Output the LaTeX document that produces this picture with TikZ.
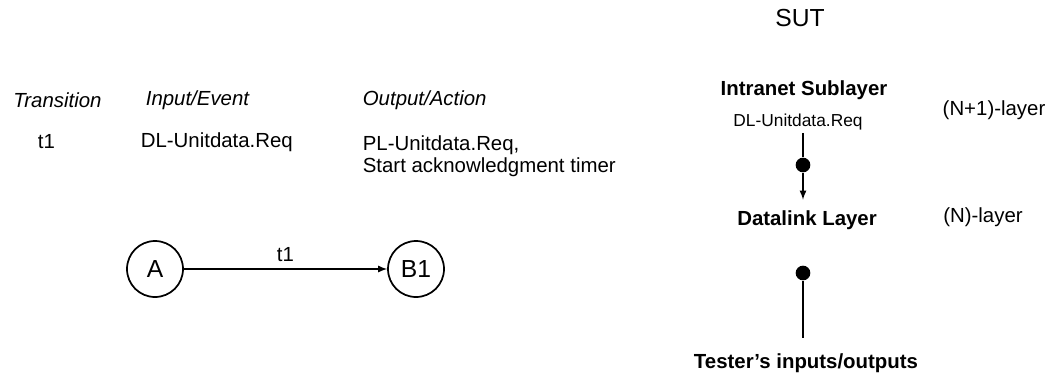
\documentclass[tikz,border=0pt]{standalone}
\usepackage{fontspec}
\setmainfont{Liberation Sans}
\usetikzlibrary{positioning}
\tikzset{
 txt/.style={font=\fontsize{15.3}{16.5}\selectfont, inner sep=0pt},
 hdr/.style={txt, font=\fontsize{15.3}{16.5}\selectfont\itshape},
 boldtxt/.style={font=\fontsize{15.3}{16.5}\selectfont\bfseries, inner sep=0pt},
 smalltxt/.style={font=\fontsize{13}{15}\selectfont, inner sep=1.5pt},
 bigtxt/.style={font=\fontsize{18.5}{20}\selectfont, inner sep=0pt},
 stnode/.style={draw, circle, minimum size=42pt, inner sep=0pt, font=\fontsize{18.5}{20}\selectfont},
 bigdot/.style={fill, circle, minimum size=11pt, inner sep=0pt}
}
\begin{document}
\begin{tikzpicture}[x=0.75pt,y=-0.75pt,line width=1.3pt]
 \useasboundingbox (0,0) rectangle (1048,375);
 \node[bigtxt] (sut) at (800,18) {SUT};

 % transition table
 \node[hdr] (htrans) at (57.5,100) {Transition};
 \node[hdr, anchor=west] (hinput) at (145,100) {Input/Event};
 \node[hdr, anchor=west] (houtput) at (362,100) {Output/Action};
 \node[txt] (trid) at (46.5,142) {t1};
 \node[txt, anchor=west] (inev) at (140,142) {DL-Unitdata.Req};
 \node[txt, anchor=north west, align=left] (outact) at (362,134.5) {PL-Unitdata.Req,\\Start acknowledgment timer};

 % state machine
 \node[stnode] (sa) at (155,269) {A};
 \node[stnode] (sb) at (416,269) {B1};
 \draw[-latex] (sa) -- (sb) node[txt, pos=0.5, above=5pt] (trlbl) {t1};

 % SUT layers
 \node[boldtxt] (intranet) at (804,90) {Intranet Sublayer};
 \node[smalltxt] (dlreq) at (798,122) {DL-Unitdata.Req};
 \node[txt] (nplus) at (994,110) {(N+1)-layer};
 \node[boldtxt] (datalink) at (807,220) {Datalink Layer};
 \node[txt] (nlay) at (983,217) {(N)-layer};
 \node[bigdot] (updot) at (803,165) {};
 \node[bigdot] (lowdot) at (803,273) {};
 \node[boldtxt] (tester) at (806,363) {Tester’s inputs/outputs};

 \draw (dlreq.south -| updot) -- (updot);
 \draw[-latex, shorten >=7.5pt] (updot) -- (updot |- datalink.north);
 \draw[shorten >=11pt] (lowdot) -- (lowdot |- tester.north);
\end{tikzpicture}
\end{document}
